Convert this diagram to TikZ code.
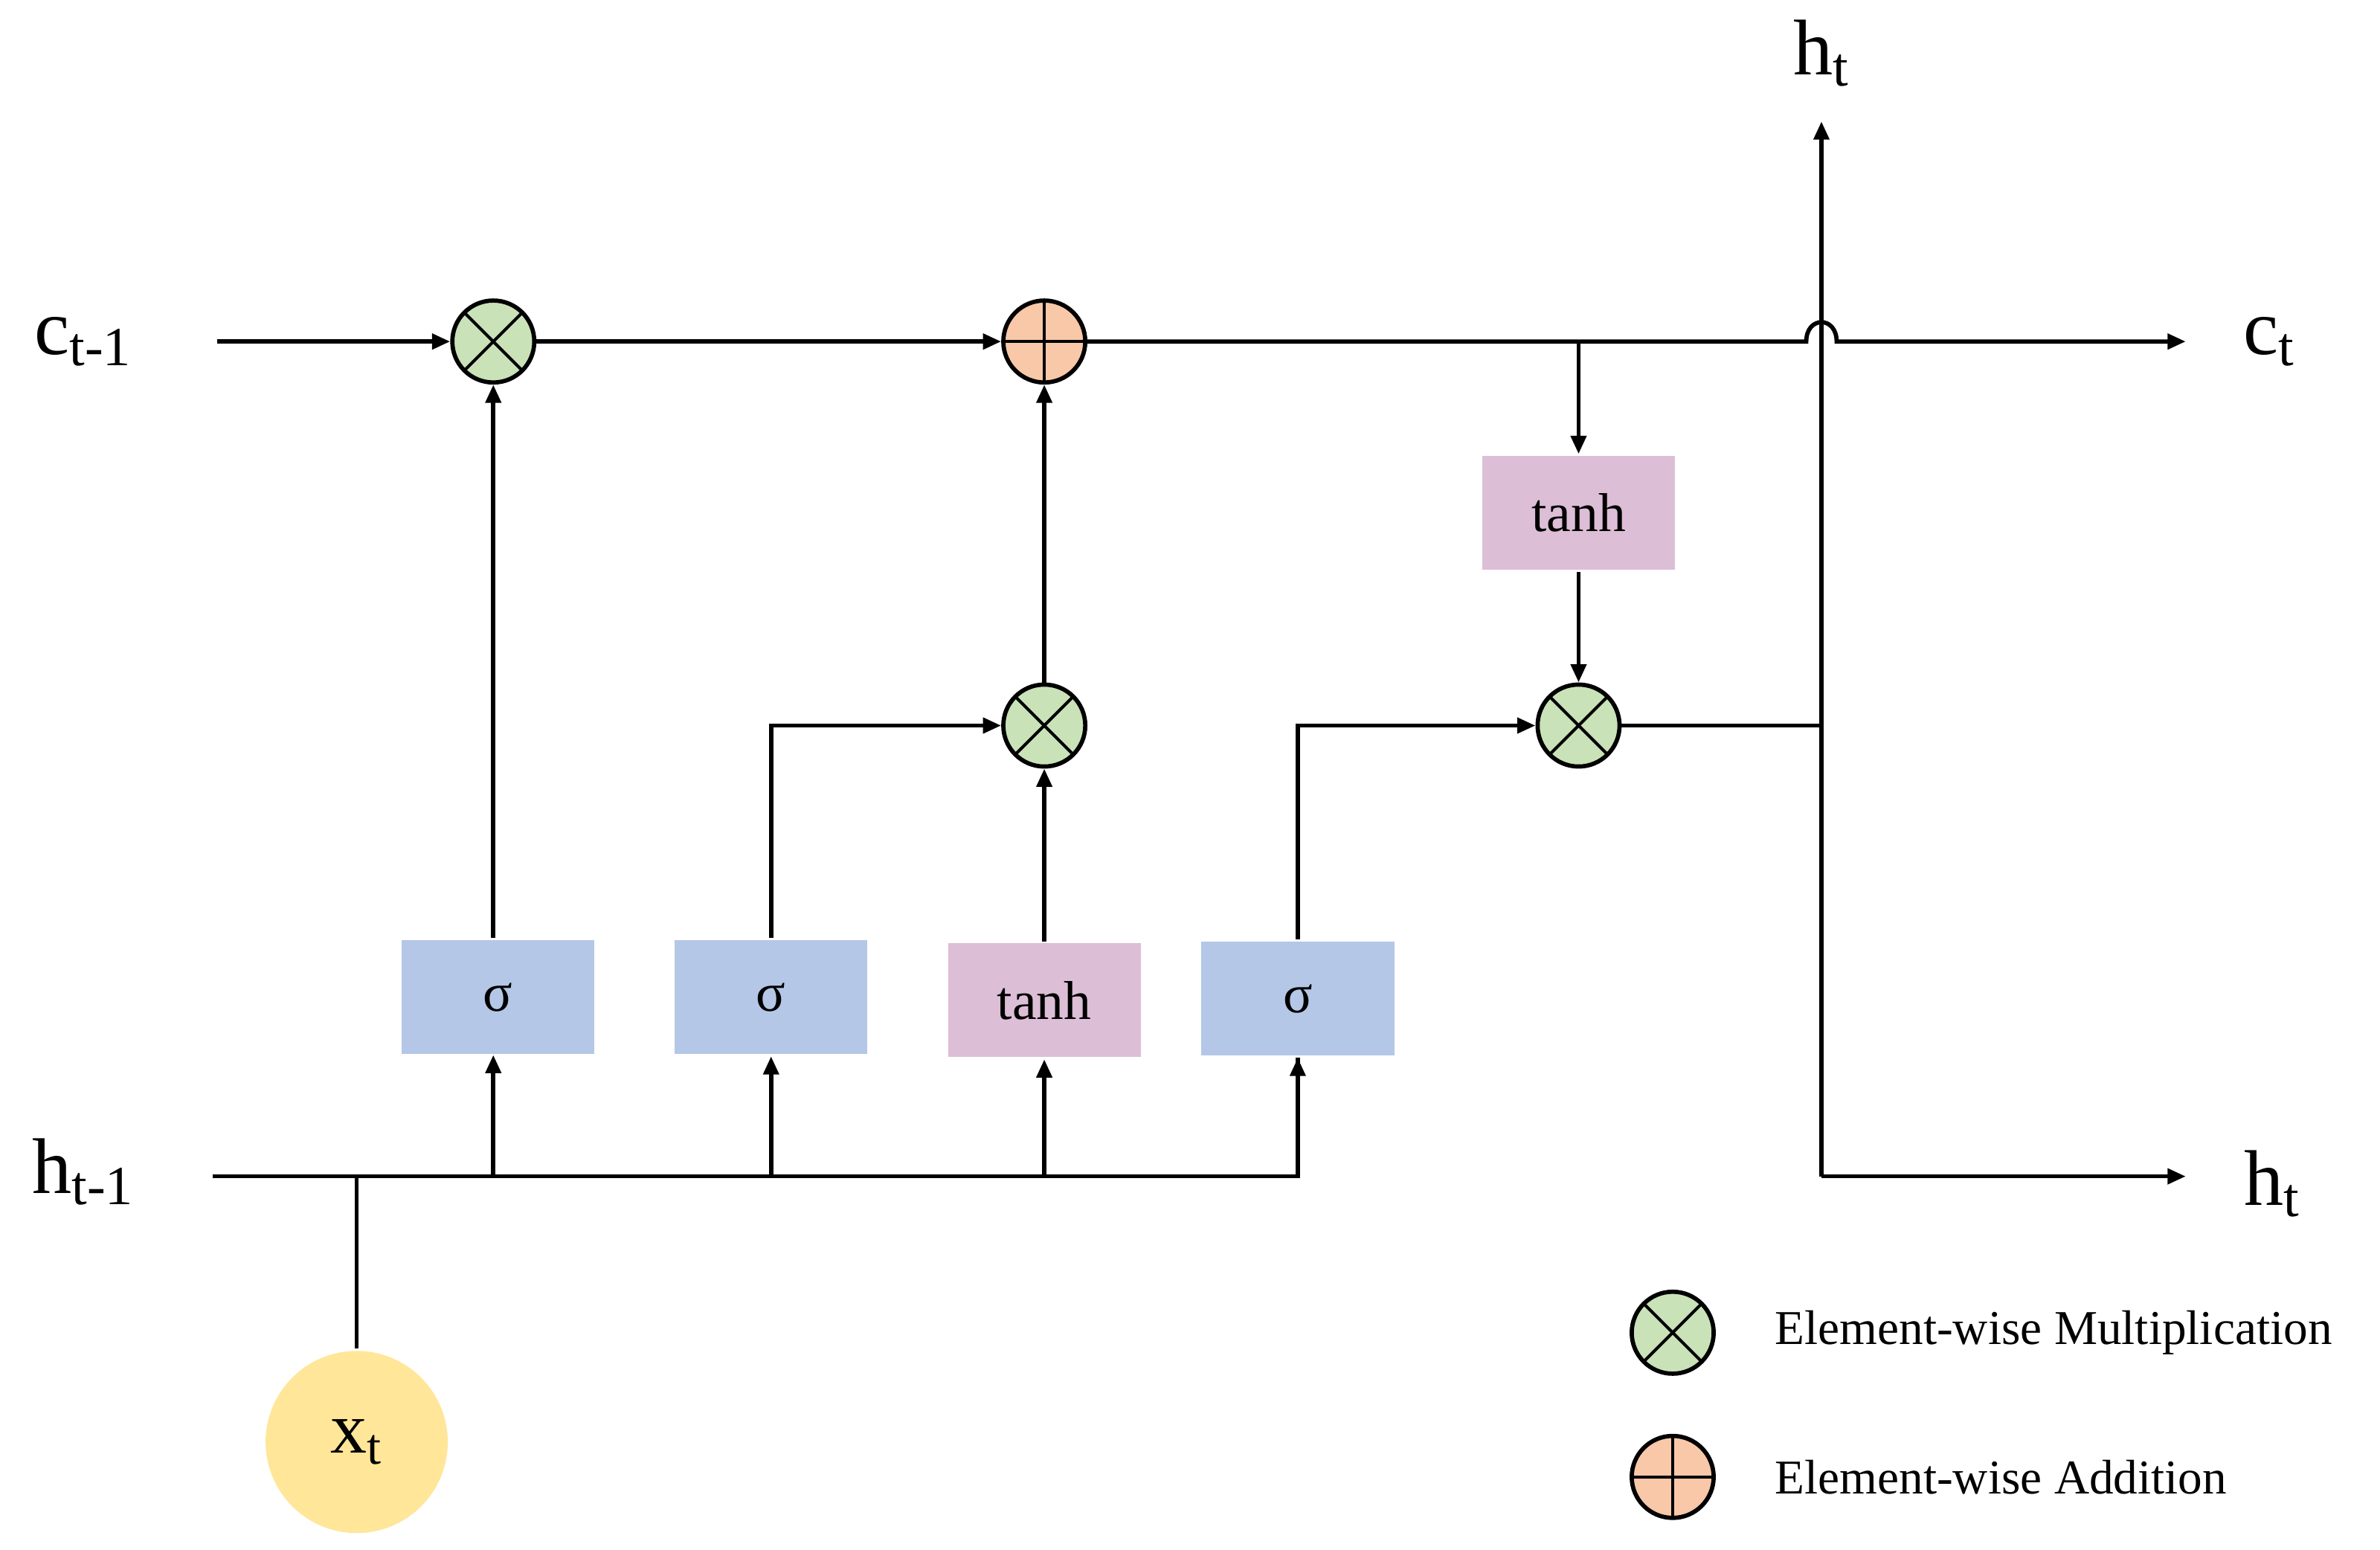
\documentclass[tikz,border=0pt]{standalone}
\usepackage{fontspec}
\setmainfont{Liberation Serif}
\usetikzlibrary{arrows.meta}
\definecolor{cgreen}{HTML}{C9E2B8}
\definecolor{corange}{HTML}{F8C8A8}
\definecolor{cblue}{HTML}{B4C7E7}
\definecolor{cpink}{HTML}{DCBED6}
\definecolor{cyellow}{HTML}{FFE699}
\begin{document}
\begin{tikzpicture}[x=0.5pt,y=-0.5pt,
  line width=1.4pt,
  >={Triangle[length=6pt,width=5pt]},
  op/.style={circle,draw,minimum size=27pt,inner sep=0pt},
  mul/.style={op,fill=cgreen,path picture={\draw[line width=1pt] (path picture bounding box.south west)++(4pt,4pt) -- ([xshift=-4pt,yshift=-4pt]path picture bounding box.north east);
    \draw[line width=1pt] ([xshift=4pt,yshift=-4pt]path picture bounding box.north west) -- ([xshift=-4pt,yshift=4pt]path picture bounding box.south east);}},
  add/.style={op,fill=corange,path picture={\draw[line width=1pt] (path picture bounding box.north) -- (path picture bounding box.south);
    \draw[line width=1pt] (path picture bounding box.west) -- (path picture bounding box.east);}},
  box/.style={minimum width=63.5pt,minimum height=37.5pt,inner sep=0pt,font=\fontsize{18}{20}\selectfont},
  sig/.style={box,fill=cblue},
  th/.style={box,fill=cpink},
  lab/.style={font=\fontsize{26}{28}\selectfont,inner sep=0pt},
  leg/.style={font=\fontsize{16}{18}\selectfont,anchor=west,inner sep=0pt}]
\useasboundingbox (0,0) rectangle (1568,1021);
% nodes
\node[lab] (cin) at (55,225) {c\textsubscript{t-1}};
\node[lab] (hin) at (55,772) {h\textsubscript{t-1}};
\node[lab] (cout) at (1495,225) {c\textsubscript{t}};
\node[lab] (hout) at (1497,780) {h\textsubscript{t}};
\node[lab] (htop) at (1200,35) {h\textsubscript{t}};
\node[mul] (m1) at (325,225) {};
\node[add] (a1) at (688,225) {};
\node[mul] (m2) at (688,478) {};
\node[mul] (m3) at (1040,478) {};
\node[th] (t2) at (1040,338) {tanh};
\node[sig] (s1) at (328,657) {σ};
\node[sig] (s2) at (508,657) {σ};
\node[th] (t1) at (688,659) {tanh};
\node[sig] (s3) at (855,658) {σ};
\node[circle,fill=cyellow,minimum size=60pt,inner sep=0pt,font=\fontsize{24}{26}\selectfont] (x) at (235,950) {x\textsubscript{t}};
\coordinate (c0) at (143,225);
\coordinate (cend) at (1440,225);
\coordinate (h0) at (140,775);
\coordinate (hx) at (235,775);
\coordinate (hend) at (855,775);
\coordinate (j) at (1200,478);
\coordinate (jb) at (1200,775);
\coordinate (jt) at (1200,80);
\coordinate (hr) at (1440,775);
\coordinate (br) at (1040,225);
% connectors
\draw[->] (c0) -- (m1);
\draw[->] (m1) -- (a1);
\draw[->] (a1) -- (1190,225) .. controls (1190,208) and (1210,208) .. (1210,225) -- (cend);
\draw[->] (br) -- (t2);
\draw[->] (t2) -- (m3);
\draw (m3) -- (j);
\draw[->] (jb) -- (jt);
\draw[->] (jb) -- (hr);
\draw[->] (t1) -- (m2);
\draw[->] (m2) -- (a1);
\draw[->] (s1.north -| m1) -- (m1);
\draw[->] (s2.north) |- (m2);
\draw[->] (s3.north) |- (m3);
\draw (h0) -- (hend) -- (hend |- s3.south);
\draw (x) -- (hx);
\draw[->] (325,775) -- (325,695);
\draw[->] (508,775) -- (s2.south);
\draw[->] (688,775) -- (t1.south);
\draw[->] (hend) -- (s3.south);
% legend
\node[mul] (lm) at (1102,878) {};
\node[add] (la) at (1102,973) {};
\node[leg] (lmt) at (1168,878) {Element-wise Multiplication};
\node[leg] (lat) at (1168,973) {Element-wise Addition};
\end{tikzpicture}
\end{document}
